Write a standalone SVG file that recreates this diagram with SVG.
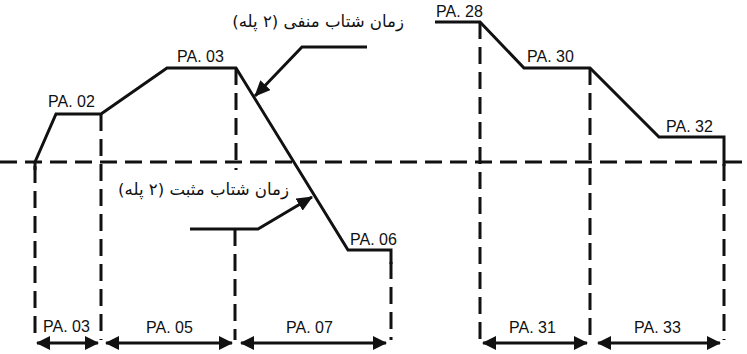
<svg xmlns="http://www.w3.org/2000/svg" width="747" height="354" viewBox="0 0 747 354">
<style>
.bg{fill:#fff}
.curve{fill:none;stroke:#111;stroke-width:3;stroke-linejoin:miter}
.dash{fill:none;stroke:#111;stroke-width:3;stroke-dasharray:17 8}
.solid{fill:none;stroke:#111;stroke-width:3}
.dim{fill:none;stroke:#111;stroke-width:3}
.lbl{font-family:"Liberation Sans",Arial,sans-serif;font-size:16px;fill:#111}
.fa{font-family:"DejaVu Sans","Noto Sans",sans-serif;font-size:16.6px;fill:#111}
</style>
<defs>
<marker id="ah" viewBox="0 0 14 14" refX="13" refY="7" markerWidth="14" markerHeight="14" markerUnits="userSpaceOnUse" orient="auto-start-reverse">
<path d="M0,0 L14,7 L0,14 Z" fill="#111"/>
</marker>
<marker id="lh" viewBox="0 0 16 14" refX="15" refY="7" markerWidth="16" markerHeight="14" markerUnits="userSpaceOnUse" orient="auto">
<path d="M0,0 L16,7 L0,14 Z" fill="#111"/>
</marker>
</defs>
<rect class="bg" x="0" y="0" width="747" height="354"/>
<g id="guides">
<line class="dash" x1="0" y1="162" x2="747" y2="162"/>
<line class="dash" x1="35" y1="166" x2="35" y2="340"/>
<line class="dash" x1="101" y1="114" x2="101" y2="340"/>
<line class="dash" x1="236" y1="68" x2="236" y2="170"/>
<line class="dash" x1="235" y1="229" x2="235" y2="340"/>
<line class="dash" x1="391" y1="262" x2="391" y2="340"/>
<line class="dash" x1="480" y1="22" x2="480" y2="340"/>
<line class="dash" x1="590" y1="68" x2="590" y2="340"/>
<line class="dash" x1="724" y1="164" x2="724" y2="340"/>
</g>
<g id="profile-left">
<path class="curve" d="M35,170 L35,162 L56,114 L101,114 L167,68 L236,68 L348,250 L391,250 L391,264"/>
<text class="lbl" x="48" y="107">PA. 02</text>
<text class="lbl" x="177" y="62">PA. 03</text>
<text class="lbl" x="350" y="245">PA. 06</text>
</g>
<g id="profile-right">
<path class="curve" d="M435,22 L480,22 L524,68 L590,68 L659,137 L724,137 L724,166"/>
<text class="lbl" x="436" y="17">PA. 28</text>
<text class="lbl" x="527" y="62">PA. 30</text>
<text class="lbl" x="666" y="132">PA. 32</text>
</g>
<g id="connectors">
<path class="solid" d="M367,47 L302,47 L255,96" marker-end="url(#lh)"/>
<path class="solid" d="M190,229 L258,229 L312,197" marker-end="url(#lh)"/>
<line class="dim" x1="37" y1="343" x2="98" y2="343" marker-start="url(#ah)" marker-end="url(#ah)"/>
<line class="dim" x1="106" y1="343" x2="232" y2="343" marker-start="url(#ah)" marker-end="url(#ah)"/>
<line class="dim" x1="241" y1="343" x2="386" y2="343" marker-start="url(#ah)" marker-end="url(#ah)"/>
<line class="dim" x1="483" y1="343" x2="587" y2="343" marker-start="url(#ah)" marker-end="url(#ah)"/>
<line class="dim" x1="598" y1="343" x2="720" y2="343" marker-start="url(#ah)" marker-end="url(#ah)"/>
</g>
<g id="labels">
<text class="fa" x="404" y="27" direction="rtl" text-anchor="start">زمان شتاب منفی (۲ پله)</text>
<text class="fa" x="289" y="195" direction="rtl" text-anchor="start">زمان شتاب مثبت (۲ پله)</text>
<text class="lbl" x="43" y="332">PA. 03</text>
<text class="lbl" x="146" y="333">PA. 05</text>
<text class="lbl" x="286" y="333">PA. 07</text>
<text class="lbl" x="509" y="333">PA. 31</text>
<text class="lbl" x="634" y="333">PA. 33</text>
</g>
</svg>
